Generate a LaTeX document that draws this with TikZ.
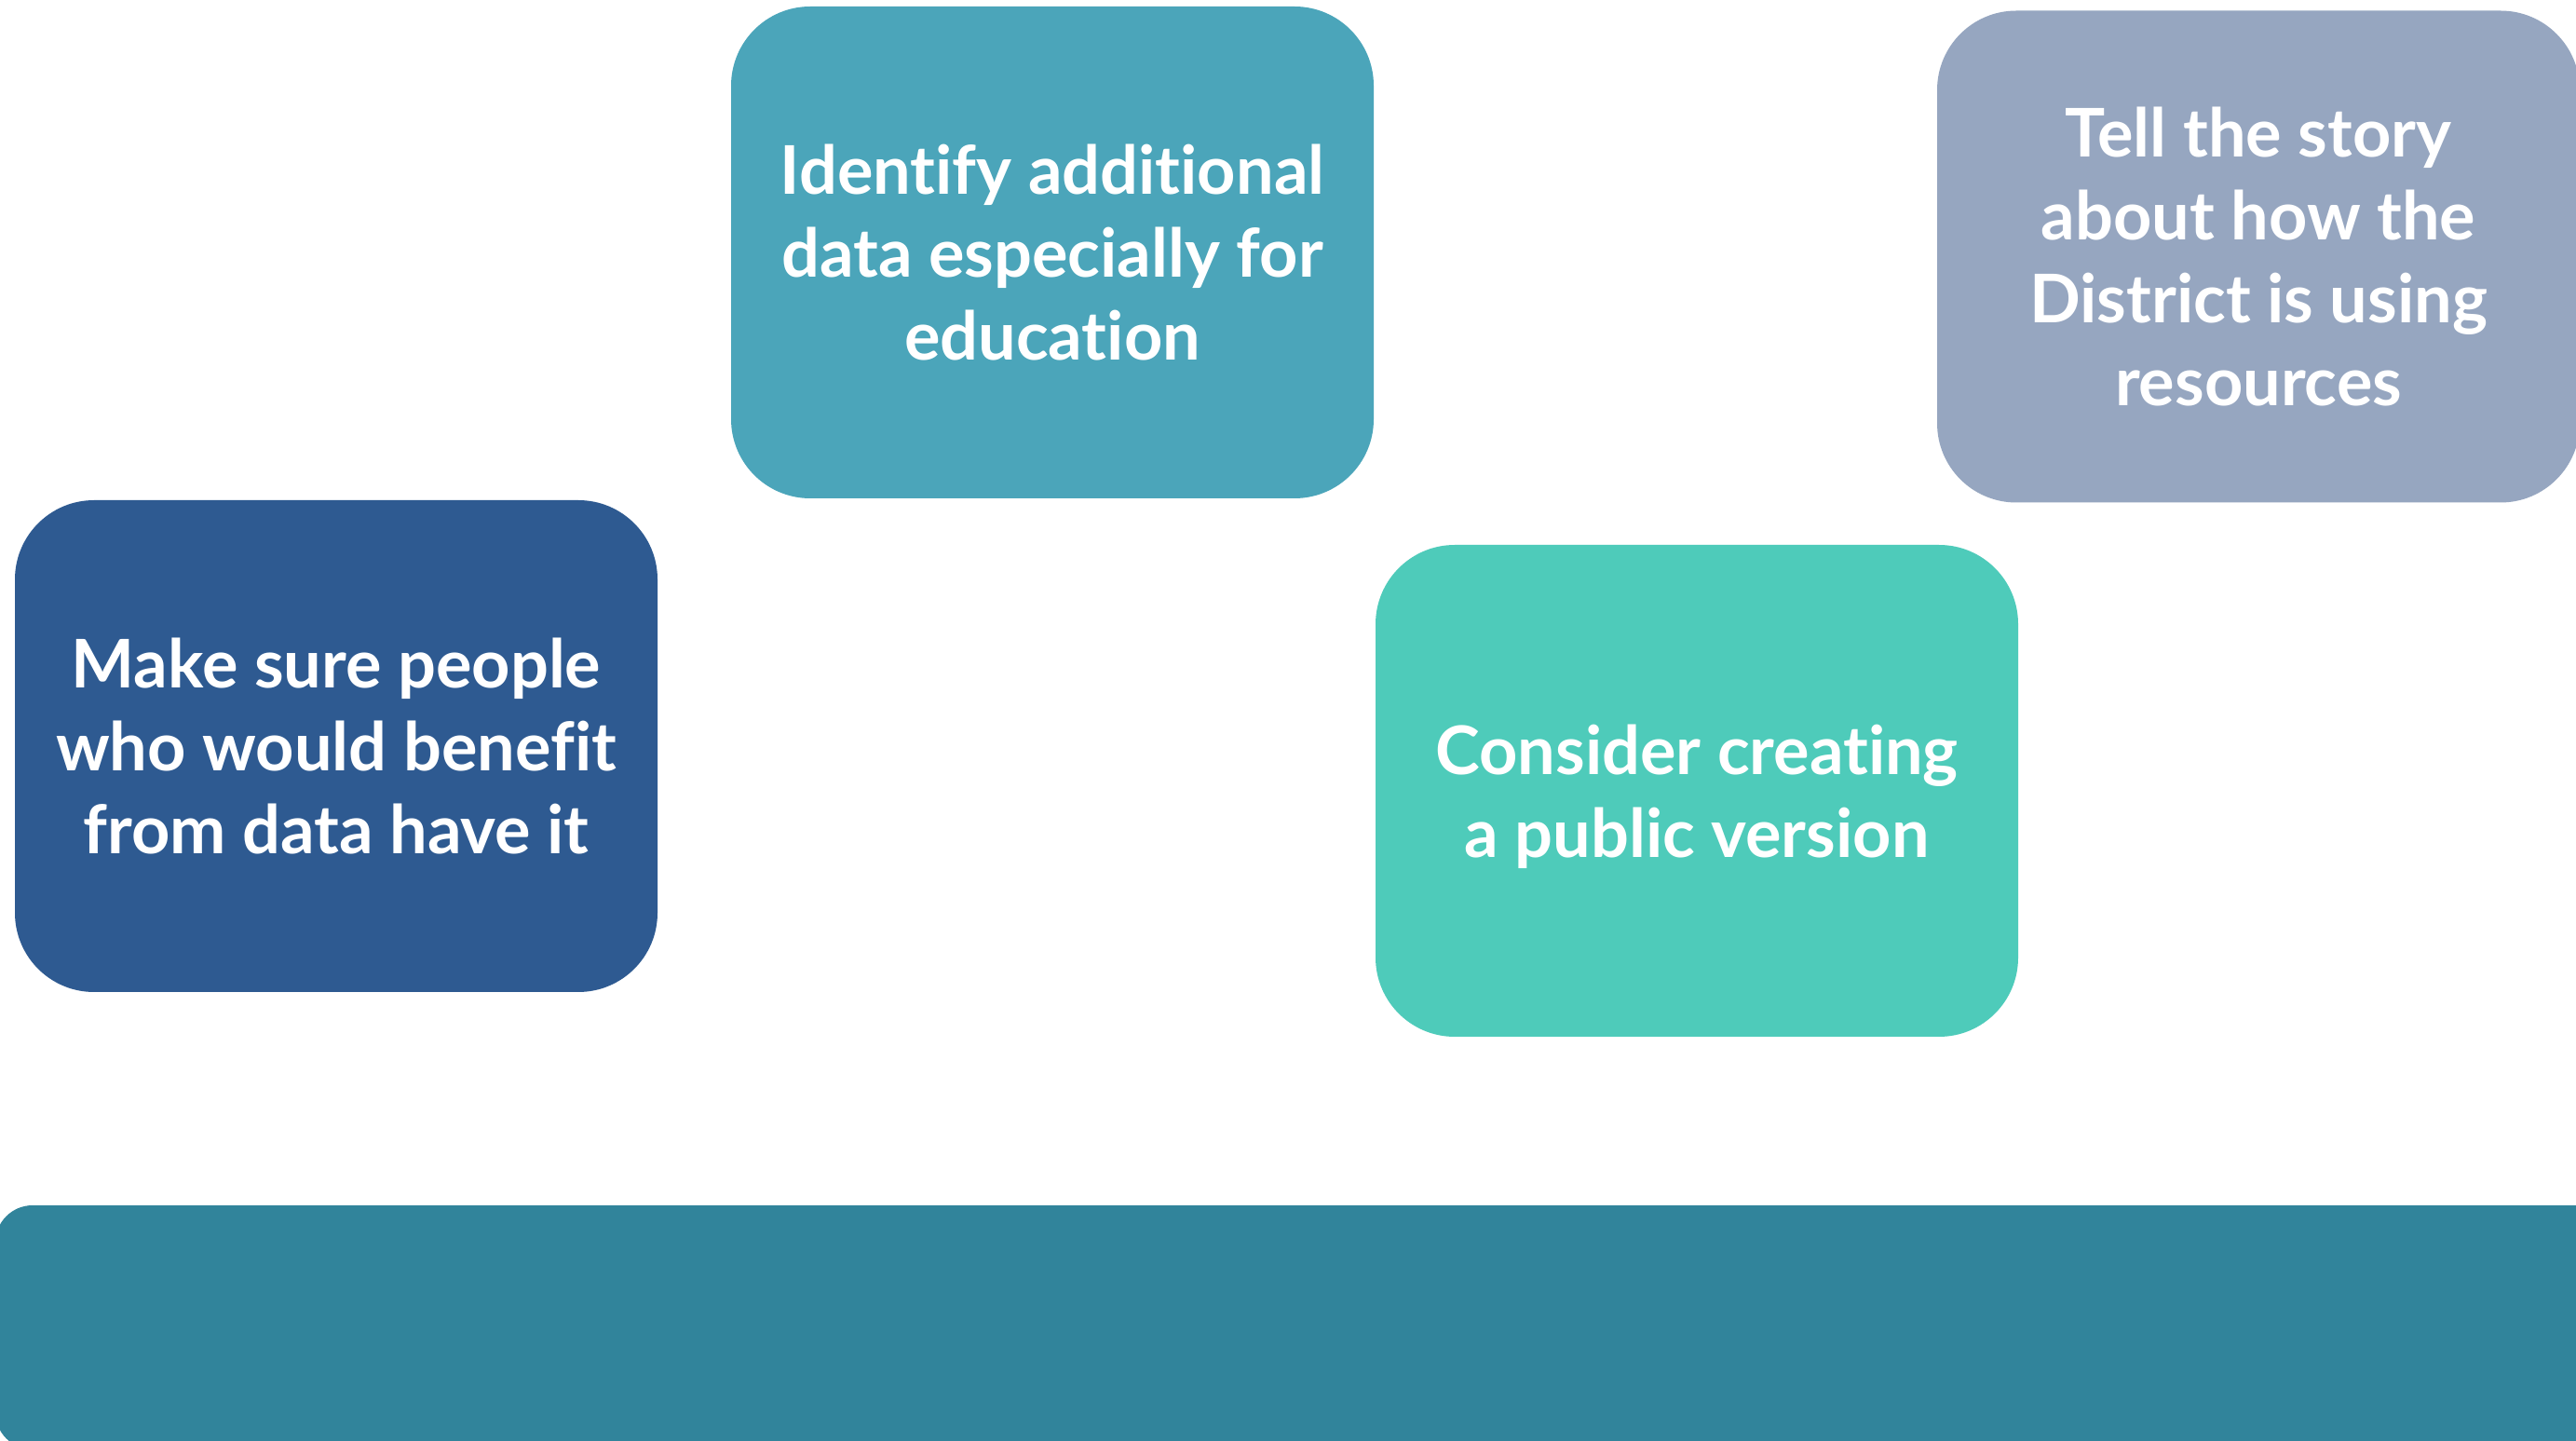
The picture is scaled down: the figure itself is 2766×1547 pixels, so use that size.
\documentclass[tikz,border=0pt]{standalone}
\usepackage{fontspec}
\setmainfont{Lato}[UprightFont=* Bold, Ligatures=CommonOff, RawFeature={-liga;-dlig}]
\definecolor{cIdent}{HTML}{4BA5BA}
\definecolor{cTell}{HTML}{96A6C0}
\definecolor{cMake}{HTML}{2E5A91}
\definecolor{cCons}{HTML}{4ECBBA}
\definecolor{cBar}{HTML}{31849B}
\tikzset{
  card/.style={rectangle, rounded corners=8.5mm, minimum width=69mm, minimum height=52.8mm,
    inner sep=0pt, align=center, text=white, text depth=-0.8mm,
    font=\fontsize{20.5pt}{25.3pt}\selectfont},
  barbox/.style={rectangle, rounded corners=4mm, fill=cBar, inner sep=0pt,
    minimum width=290.5mm, minimum height=26.2mm}
}
\begin{document}
\begin{tikzpicture}[x=0.1mm, y=-0.1mm]
\clip (0,0) rectangle (2766,1547);
\useasboundingbox (0,0) rectangle (2766,1547);
\fill[white] (0,0) rectangle (2766,1547);
\node[card, fill=cIdent] (ident) at (1130,271) {Identify additional\\data especially for\\education};
\node[card, fill=cTell] (tell) at (2425,275.5) {Tell the story\\about how the\\District is using\\resources};
\node[card, fill=cMake] (make) at (361,801) {Make sure people\\who would benefit\\from data have it};
\node[card, fill=cCons] (cons) at (1822,849) {Consider creating\\a public version};
\node[barbox] (bar) at (1447.5,1425) {};
\end{tikzpicture}
\end{document}
